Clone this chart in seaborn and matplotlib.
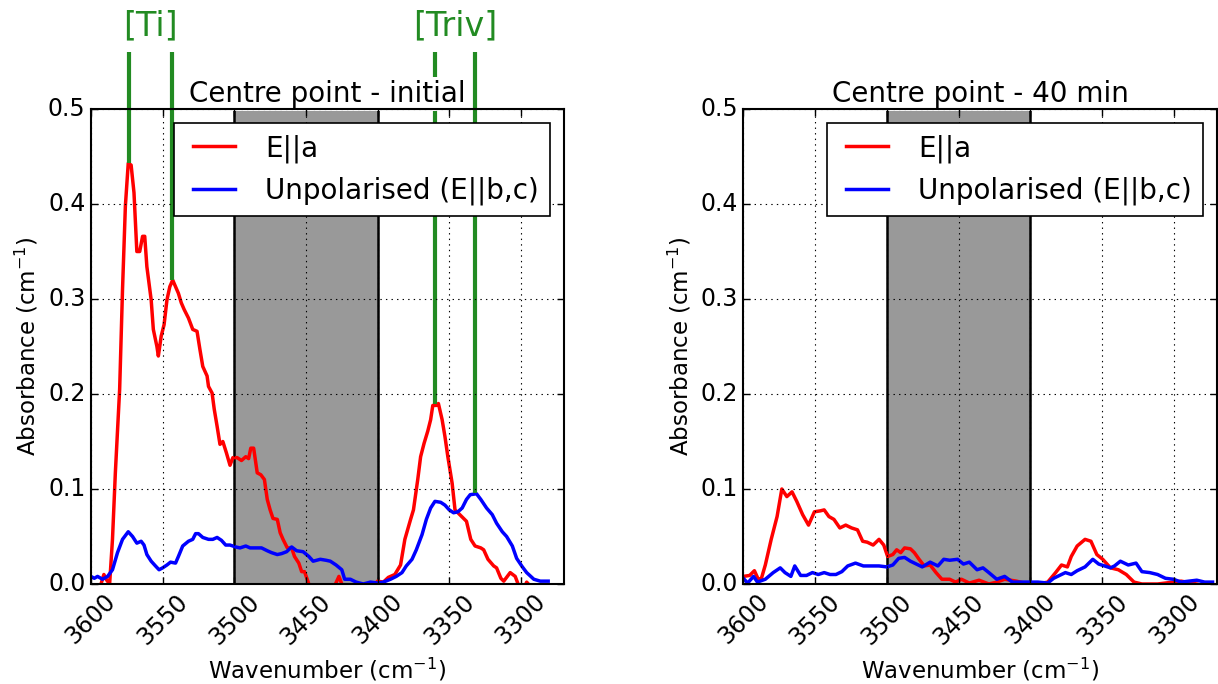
import matplotlib
matplotlib.use("Agg")
import matplotlib.pyplot as plt
import seaborn as sns
import pandas as pd

# ---------------- data ----------------
# Left panel: Centre point - initial
init_ea_wn = [3600, 3596, 3593, 3591, 3589, 3587, 3585, 3583, 3580, 3578, 3576, 3574, 3572, 3570,
              3568, 3566, 3564, 3562.5, 3561, 3558, 3556.5, 3554, 3553, 3551, 3549, 3547, 3545,
              3543, 3541, 3539, 3537, 3535, 3532, 3529, 3526, 3524, 3522, 3519, 3518, 3515.5,
              3514, 3512, 3510, 3508, 3505.5, 3503, 3501, 3498, 3495, 3492, 3490, 3488.5, 3486.5,
              3484, 3481.5, 3479, 3477, 3475, 3473, 3470, 3468, 3466, 3463, 3460, 3458, 3455,
              3453, 3451, 3448, 3445, 3435, 3430, 3427, 3425, 3420, 3410, 3403, 3400, 3396,
              3392.5, 3388, 3384, 3381, 3377, 3375, 3372, 3370, 3367.6, 3365, 3363, 3361.5, 3359,
              3357.6, 3355, 3353, 3351, 3348, 3346, 3344, 3340, 3338, 3335, 3332, 3328, 3326,
              3323, 3319, 3317, 3314, 3312, 3307.5, 3304, 3302, 3298, 3296, 3293]
init_ea_abs = [-0.01, -0.005, 0.0, 0.01, 0.004, 0.0, 0.047, 0.117, 0.205, 0.31, 0.398, 0.443, 0.441,
               0.412, 0.35, 0.35, 0.366, 0.366, 0.334, 0.299, 0.268, 0.25, 0.24, 0.261, 0.273, 0.299,
               0.313, 0.32, 0.313, 0.306, 0.296, 0.289, 0.28, 0.268, 0.266, 0.247, 0.229, 0.219,
               0.208, 0.201, 0.184, 0.166, 0.147, 0.15, 0.138, 0.125, 0.133, 0.133, 0.13, 0.134,
               0.132, 0.143, 0.143, 0.117, 0.115, 0.11, 0.089, 0.078, 0.069, 0.068, 0.054, 0.047,
               0.038, 0.038, 0.029, 0.022, 0.013, 0.013, 0.0, -0.01, -0.01, -0.002, 0.008, 0.0,
               -0.005, -0.005, -0.002, 0.003, 0.002, 0.007, 0.01, 0.02, 0.047, 0.068, 0.078, 0.11,
               0.134, 0.148, 0.161, 0.173, 0.188, 0.188, 0.19, 0.173, 0.155, 0.134, 0.106, 0.078,
               0.075, 0.069, 0.066, 0.047, 0.04, 0.038, 0.036, 0.026, 0.019, 0.017, 0.006, 0.003,
               0.012, 0.008, 0.0, -0.005, 0.002, -0.003]

init_unp_wn = [3600, 3597.7, 3595.4, 3592, 3588.4, 3585, 3581.5, 3578, 3574, 3571, 3568, 3565, 3563,
               3561, 3558, 3555, 3552.5, 3550, 3547, 3544.5, 3541, 3539, 3536, 3532, 3529, 3527,
               3525, 3522, 3518, 3515, 3512, 3509, 3506, 3503, 3499, 3496, 3492, 3489, 3484, 3481,
               3477, 3474, 3470, 3467, 3463.5, 3460, 3456.5, 3452, 3448, 3445, 3440, 3436, 3433,
               3429, 3425, 3423, 3419, 3415, 3410, 3405, 3400, 3396, 3391, 3387, 3383, 3380, 3376,
               3373, 3369, 3366, 3363, 3360, 3356, 3353, 3350, 3347, 3344, 3341, 3338, 3335.4,
               3331, 3328, 3324, 3320, 3317, 3313, 3310, 3306, 3303, 3299, 3296, 3291, 3286.5, 3281]
init_unp_abs = [0.008, 0.006, 0.008, 0.005, 0.008, 0.015, 0.033, 0.047, 0.055, 0.05, 0.043, 0.045,
                0.041, 0.031, 0.024, 0.019, 0.015, 0.017, 0.02, 0.023, 0.022, 0.029, 0.04, 0.045,
                0.047, 0.053, 0.053, 0.049, 0.047, 0.047, 0.049, 0.046, 0.041, 0.041, 0.039, 0.038,
                0.04, 0.038, 0.038, 0.038, 0.035, 0.033, 0.031, 0.032, 0.034, 0.039, 0.035, 0.034,
                0.029, 0.024, 0.026, 0.025, 0.024, 0.02, 0.015, 0.005, 0.005, 0.002, 0.0, 0.002,
                0.001, 0.002, 0.005, 0.008, 0.012, 0.019, 0.026, 0.036, 0.052, 0.068, 0.08, 0.087,
                0.086, 0.083, 0.078, 0.075, 0.076, 0.08, 0.089, 0.094, 0.095, 0.089, 0.08, 0.073,
                0.064, 0.055, 0.05, 0.04, 0.027, 0.018, 0.012, 0.005, 0.003, 0.003]

# Right panel: Centre point - 40 min
min40_ea_wn = [3600, 3595.6, 3592.3, 3589.6, 3587.4, 3584.7, 3580.6, 3576.5, 3573.2, 3569.7, 3566.1,
               3562.8, 3558.7, 3554.6, 3550.5, 3546.4, 3543.7, 3540.4, 3536.9, 3532.8, 3528.7,
               3524.6, 3520.5, 3516.9, 3513.7, 3509.6, 3505.5, 3502.2, 3499.5, 3495.9, 3493.2,
               3490.4, 3487.7, 3483.6, 3480.9, 3477.6, 3474.0, 3469.9, 3465.8, 3461.7, 3456.3,
               3452.2, 3448.1, 3442.6, 3435.8, 3429.0, 3423.5, 3418.0, 3409.8, 3401.6, 3394.8,
               3388.0, 3382.5, 3378.4, 3374.3, 3371.6, 3367.5, 3362.0, 3357.9, 3353.8, 3349.7,
               3344.3, 3338.8, 3333.3, 3327.9, 3322.4, 3311.5, 3295.1, 3284.2]
min40_ea_abs = [0.008, 0.009, 0.014, 0.005, 0.006, 0.02, 0.047, 0.071, 0.1, 0.092, 0.097, 0.087,
                0.073, 0.062, 0.076, 0.077, 0.078, 0.071, 0.068, 0.059, 0.062, 0.059, 0.057, 0.045,
                0.044, 0.041, 0.047, 0.041, 0.029, 0.031, 0.036, 0.033, 0.038, 0.037, 0.033, 0.026,
                0.019, 0.020, 0.012, 0.005, 0.005, 0.002, 0.005, 0.001, 0.004, 0.0, 0.002, 0.005,
                0.003, 0.0, 0.0, 0.002, 0.012, 0.020, 0.018, 0.029, 0.040, 0.047, 0.045, 0.031,
                0.026, 0.017, 0.015, 0.010, 0.002, 0.0, 0.0, 0.003, 0.0]

min40_unp_wn = [3600, 3597.0, 3592.9, 3590.2, 3584.7, 3579.2, 3574.3, 3571.0, 3566.9, 3564.2, 3560.1,
                3556.0, 3551.9, 3547.8, 3543.7, 3539.6, 3535.5, 3531.4, 3527.3, 3521.9, 3516.4,
                3510.9, 3505.5, 3500.0, 3495.9, 3491.8, 3487.7, 3483.6, 3479.5, 3475.4, 3469.9,
                3464.5, 3460.4, 3456.3, 3450.8, 3446.7, 3442.6, 3437.2, 3433.1, 3429.0, 3423.5,
                3418.0, 3412.6, 3407.1, 3401.6, 3394.8, 3388.0, 3383.9, 3379.8, 3375.7, 3371.6,
                3367.5, 3362.0, 3356.6, 3352.5, 3348.4, 3344.3, 3341.5, 3337.4, 3331.9, 3326.5,
                3322.4, 3316.9, 3311.5, 3306.0, 3300.5, 3295.1, 3284.2, 3278.7, 3273.2]
min40_unp_abs = [0.006, 0.001, 0.008, 0.002, 0.005, 0.012, 0.017, 0.012, 0.008, 0.019, 0.009,
                 0.009, 0.012, 0.010, 0.012, 0.010, 0.010, 0.013, 0.019, 0.022, 0.019, 0.019,
                 0.019, 0.018, 0.020, 0.027, 0.028, 0.024, 0.021, 0.018, 0.023, 0.019, 0.026,
                 0.025, 0.026, 0.021, 0.023, 0.015, 0.017, 0.012, 0.005, 0.008, 0.002, 0.002,
                 0.002, 0.002, 0.001, 0.006, 0.009, 0.012, 0.010, 0.014, 0.018, 0.026, 0.021,
                 0.019, 0.017, 0.019, 0.024, 0.020, 0.022, 0.013, 0.012, 0.010, 0.006, 0.005,
                 0.002, 0.004, 0.002, 0.002]

# Peak markers (left panel)
peak_groups = ["[Ti]", "[Ti]", "[Triv]", "[Triv]"]
peak_wn = [3573.8, 3543.3, 3360.0, 3332.0]
peak_abs = [0.443, 0.320, 0.189, 0.096]
group_labels = ["[Ti]", "[Triv]"]

titles = ["Centre point - initial", "Centre point - 40 min"]
series_labels = ["E||a", "Unpolarised (E||b,c)"]
excluded_band = (3500, 3400)
x_ticks = [3600, 3550, 3500, 3450, 3400, 3350, 3300]
y_ticks = [0.0, 0.1, 0.2, 0.3, 0.4, 0.5]

# ---------------- style ----------------
plt.style.use("classic")
plt.rcParams.update({
    "figure.facecolor": "white",
    "savefig.facecolor": "white",
    "font.family": ["DejaVu Sans"],
    "mathtext.fontset": "dejavusans",
    "axes.linewidth": 1.5,
    "legend.fancybox": False,
})

fig = plt.figure(figsize=(12.18, 6.84), dpi=100)
ax_l = fig.add_axes([0.0747, 0.1462, 0.3883, 0.6944])
ax_r = fig.add_axes([0.6103, 0.1462, 0.3890, 0.6944])

panels = [
    (ax_l, init_ea_wn, init_ea_abs, init_unp_wn, init_unp_abs, titles[0]),
    (ax_r, min40_ea_wn, min40_ea_abs, min40_unp_wn, min40_unp_abs, titles[1]),
]

for ax, ea_wn, ea_abs, un_wn, un_abs, title in panels:
    ax.axvspan(excluded_band[0], excluded_band[1], facecolor="#999999",
               edgecolor="black", linewidth=1.8, zorder=1)
    df_ea = pd.DataFrame({"wn": ea_wn, "abs": ea_abs})
    df_un = pd.DataFrame({"wn": un_wn, "abs": un_abs})
    sns.lineplot(data=df_ea, x="wn", y="abs", ax=ax, color="red", linewidth=2.5,
                 label=series_labels[0], estimator=None, sort=False, zorder=2)
    sns.lineplot(data=df_un, x="wn", y="abs", ax=ax, color="blue", linewidth=2.5,
                 label=series_labels[1], estimator=None, sort=False, zorder=2)
    ax.set_xlim(3600, 3270)
    ax.set_ylim(0, 0.5)
    ax.set_xticks(x_ticks)
    ax.set_yticks(y_ticks)
    ax.set_xticklabels([str(t) for t in x_ticks], rotation=45, fontsize=17)
    ax.set_yticklabels([f"{t:.1f}" for t in y_ticks], fontsize=17)
    ax.grid(True, linestyle=":", color="black", linewidth=0.8)
    ax.set_axisbelow(False)
    ax.set_xlabel("Wavenumber (cm$^{-1}$)", fontsize=16.5)
    ax.set_ylabel("Absorbance (cm$^{-1}$)", fontsize=16.5)
    t = ax.set_title(title, fontsize=20, pad=5,
                     bbox=dict(facecolor="white", edgecolor="none", boxstyle="square,pad=0.1"))
    t.set_zorder(2.4)
    ax.tick_params(direction="in", length=5, width=1, top=True, right=True)
    leg = ax.legend(loc="upper right", fontsize=20, frameon=True, fancybox=False,
                    handlelength=2.1, borderaxespad=0.5)
    leg.get_frame().set_edgecolor("black")
    leg.get_frame().set_linewidth(1.2)
    leg.set_zorder(5)

# green peak markers on the left panel
green = "#228B22"
ax_l.vlines(peak_wn, peak_abs, 0.56, colors=green, linewidth=3, clip_on=False, zorder=2.2)
for lab in group_labels:
    xs = [w for w, g in zip(peak_wn, peak_groups) if g == lab]
    ax_l.text(sum(xs) / len(xs), 0.588, lab, color=green, fontsize=24,
              ha="center", va="center", clip_on=False)

fig.savefig("out.png", dpi=100)
